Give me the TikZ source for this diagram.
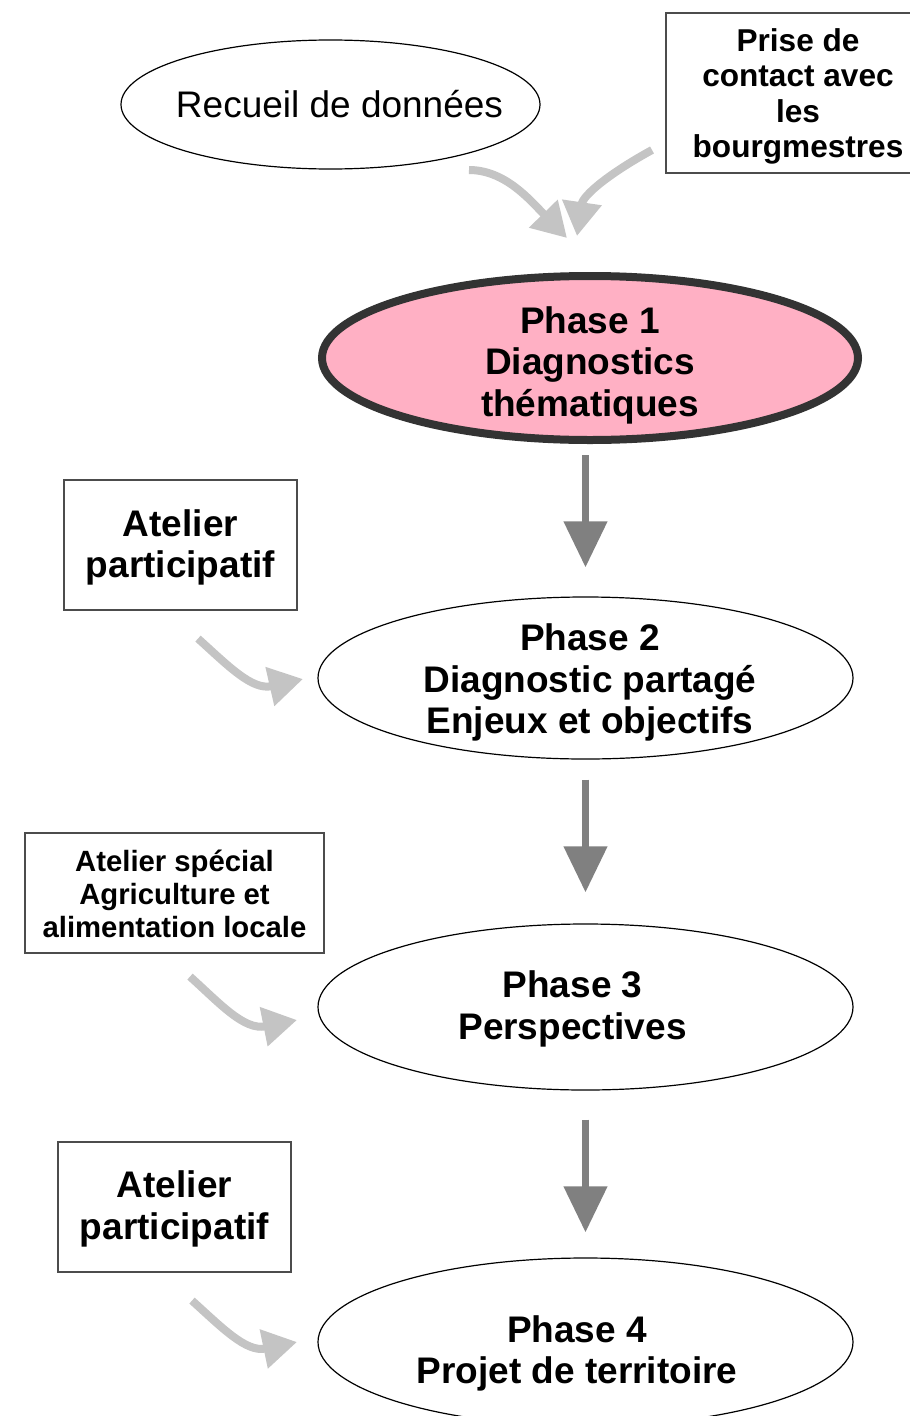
\documentclass[tikz,border=0pt]{standalone}
\usepackage{fontspec}
\setmainfont{Liberation Sans}
\usetikzlibrary{shapes.geometric,arrows.meta,calc}
\definecolor{pinkfill}{RGB}{255,176,196}
\definecolor{darkbord}{RGB}{51,51,51}
\definecolor{arrdark}{RGB}{128,128,128}
\definecolor{arrlight}{RGB}{196,196,196}
\begin{document}
\begin{tikzpicture}[x=1pt,y=-1pt,
  phase/.style={ellipse, draw=black, line width=1.2pt, inner sep=0pt},
  boxnode/.style={rectangle, draw=black!70, line width=1.2pt, inner sep=0pt, align=center},
  bigtext/.style={font=\fontsize{37}{41.5}\selectfont\bfseries, align=center, inner sep=0pt},
  darkarr/.style={draw=arrdark, line width=7.5pt, -{Triangle[width=42pt,length=46pt]}},
  lightarr/.style={draw=arrlight, line width=8pt, -{Triangle[width=38pt,length=34pt]}},
]
\clip (0,0) rectangle (910,1416);
\fill[white] (0,0) rectangle (910,1416);

% top nodes
\node[phase, minimum width=419pt, minimum height=129pt] (rec) at (330.5,104.5) {};
\node[font=\fontsize{37}{42}\selectfont, inner sep=0pt] (rect) at ($(rec)+(9,0)$) {Recueil de données};
\node[boxnode, minimum width=264pt, minimum height=160pt] (prise) at (798,93) {};
\node[font=\fontsize{31.6}{35.3}\selectfont\bfseries, align=center, inner sep=0pt] (priset) at (798,96.5) {Prise de\\contact avec\\les\\bourgmestres};

% phases
\node[phase, draw=darkbord, line width=8pt, fill=pinkfill, minimum width=536pt, minimum height=164pt] (p1) at (590,358) {};
\node[bigtext] (p1t) at (590,365) {Phase 1\\Diagnostics\\thématiques};

\node[phase, minimum width=535pt, minimum height=162pt] (p2) at (585.5,678) {};
\node[bigtext] (p2t) at (590,682.5) {Phase 2\\Diagnostic partagé\\Enjeux et objectifs};

\node[phase, minimum width=535pt, minimum height=166pt] (p3) at (585.5,1007) {};
\node[bigtext] (p3t) at (572.5,1009) {Phase 3\\Perspectives};

\node[phase, minimum width=535pt, minimum height=168pt] (p4) at (585.5,1342) {};
\node[bigtext] (p4t) at (577,1353.5) {Phase 4\\Projet de territoire};

% side boxes
\node[boxnode, minimum width=233pt, minimum height=130pt] (a1) at (180.5,545) {};
\node[bigtext] (a1t) at (180.5,547.5) {Atelier\\participatif};
\node[boxnode, minimum width=299pt, minimum height=120pt] (a2) at (174.5,893) {};
\node[font=\fontsize{29.3}{33}\selectfont\bfseries, align=center, inner sep=0pt] (a2t) at (174.5,894) {Atelier spécial\\Agriculture et\\alimentation locale};
\node[boxnode, minimum width=233pt, minimum height=130pt] (a3) at (174.5,1207) {};
\node[bigtext] (a3t) at (174.5,1209) {Atelier\\participatif};

% dark arrows
\draw[darkarr, shorten <=11pt, shorten >=29pt] (p1.south -| p2) -- (p2.north);
\draw[darkarr, shorten <=20pt, shorten >=31pt] (p2.south) -- (p3.north);
\draw[darkarr, shorten <=29pt, shorten >=25pt] (p3.south) -- (p4.north);

% light arrows
\coordinate (s1) at (469,170);
\coordinate (t1) at (567,238);
\coordinate (s2) at (652,150);
\coordinate (t2) at (577,236);
\draw[lightarr] (s1) .. controls (505,170) and (530,200) .. (t1);
\draw[lightarr] (s2) .. controls (610,173) and (583,195) .. (t2);

\coordinate (s3) at ($(a1.south)+(17.5,28)$);
\coordinate (t3) at (303,679);
\draw[lightarr] (s3) .. controls ($(s3)+(30,27)$) and ($(s3)+(54,52)$) .. (t3);

\coordinate (s4) at ($(a2.south)+(15.5,23)$);
\coordinate (t4) at (297,1020);
\draw[lightarr] (s4) .. controls ($(s4)+(30,27)$) and ($(s4)+(54,54)$) .. (t4);

\coordinate (s5) at ($(a3.south)+(17.5,28)$);
\coordinate (t5) at (297,1342);
\draw[lightarr] (s5) .. controls ($(s5)+(30,27)$) and ($(s5)+(54,52)$) .. (t5);
\end{tikzpicture}
\end{document}
